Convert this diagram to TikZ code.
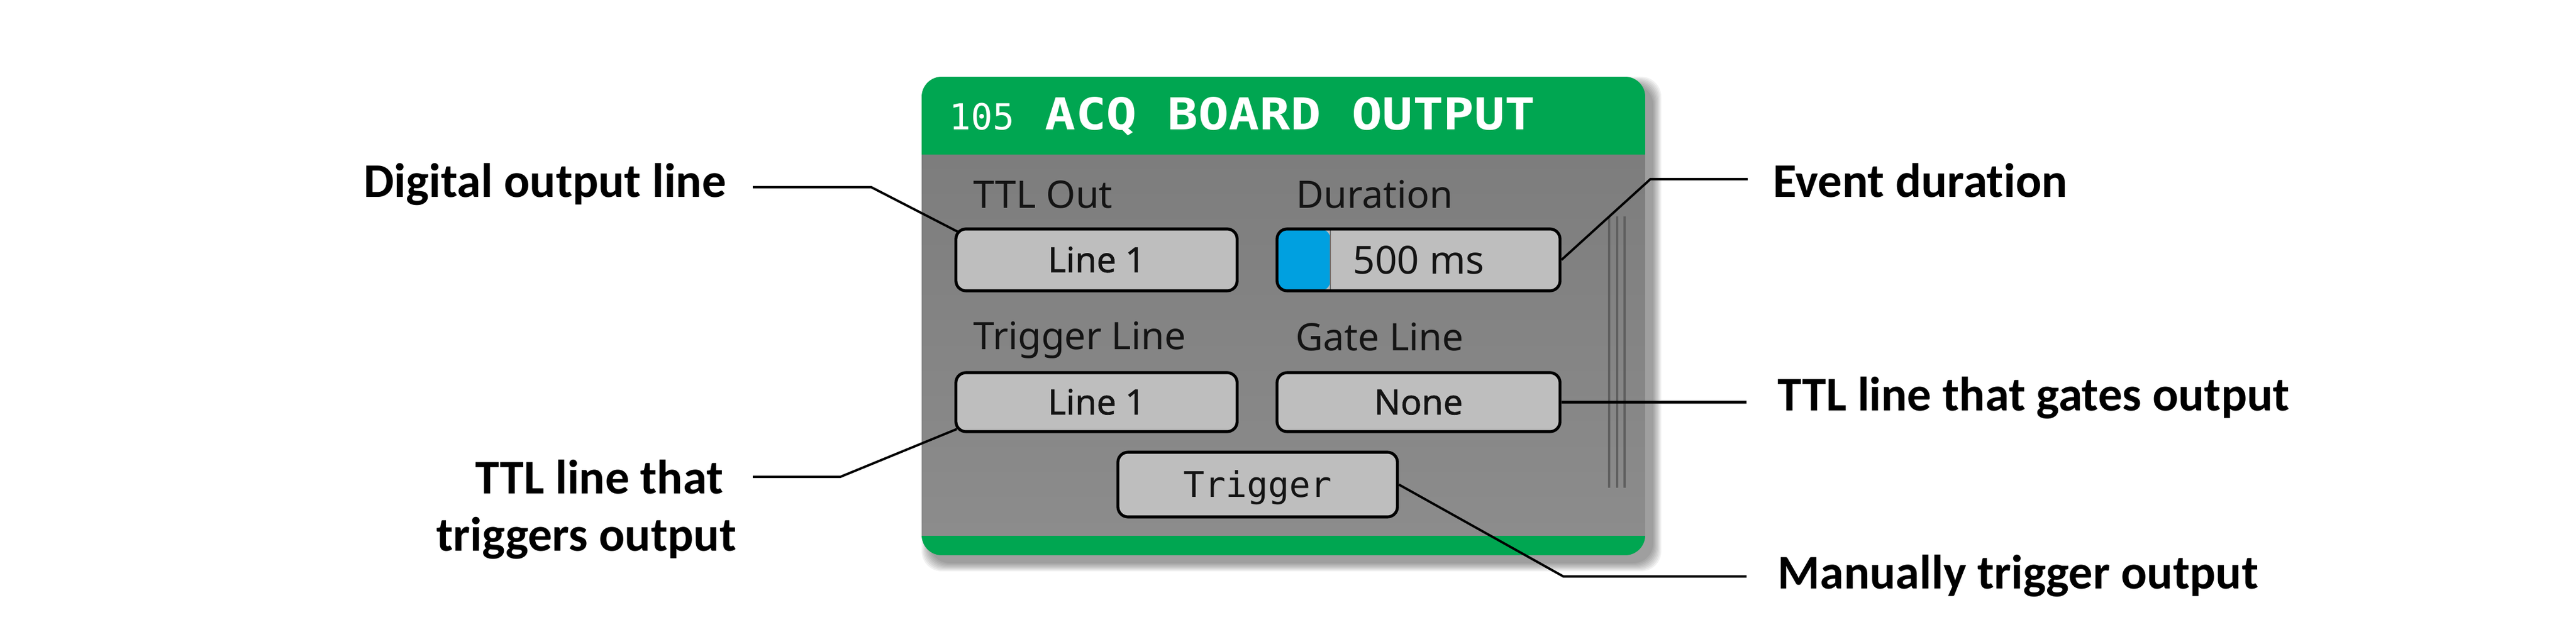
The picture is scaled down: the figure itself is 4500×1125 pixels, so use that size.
\documentclass[tikz,border=0pt]{standalone}
\usepackage{fontspec}
\usepackage{graphicx}
\usetikzlibrary{calc}
\newfontfamily\callfont{Carlito}[Ligatures=NoCommon]
\newfontfamily\uifont{Noto Sans}
\newfontfamily\uimed{Noto Sans}[FakeBold=1]
\newfontfamily\codefont{DejaVu Sans Mono}
\definecolor{hdrgreen}{RGB}{0,166,81}
\definecolor{bodytop}{RGB}{125,125,125}
\definecolor{bodybot}{RGB}{140,140,140}
\definecolor{btngray}{RGB}{190,190,190}
\definecolor{durblue}{RGB}{0,160,224}
\definecolor{sepgray}{RGB}{110,110,110}
\definecolor{scrollgray}{RGB}{95,95,95}
\definecolor{uitext}{RGB}{20,20,20}
\begin{document}
\begin{tikzpicture}[x=0.01cm,y=-0.01cm,
  btn/.style={draw=black, line width=1.45pt, fill=btngray, rounded corners=5pt, inner sep=0pt, text=uitext},
  callout/.style={font=\callfont\bfseries\fontsize{24}{28}\selectfont, inner sep=0pt, text=black},
  uilabel/.style={font=\uifont\fontsize{18.8}{22}\selectfont, inner sep=0pt, text=uitext},
  conn/.style={draw=black, line width=1.15pt},
  scrl/.style={draw=scrollgray, line width=1.1pt}]
\useasboundingbox (0,0) rectangle (4500,1125);
\fill[white] (0,0) rectangle (4500,1125);

% shadow
\foreach \i in {0,2,...,14} {
  \fill[black, opacity=0.055, rounded corners=10pt] (1624-\i,148-\i) rectangle (2888+\i,984+\i);
}
% panel
\begin{scope}
  \clip[rounded corners=10pt] (1610,134) rectangle (2874,970);
  \fill[hdrgreen] (1610,134) rectangle (2874,970);
  \shade[top color=bodytop, bottom color=bodybot] (1610,271) rectangle (2874,935);
\end{scope}

% title
\node[anchor=base west, inner sep=0pt, text=white, font=\codefont\fontsize{17.8}{20}\selectfont] (num) at (1658,227) {105};
\node[anchor=base west, inner sep=0pt, text=white, font=\codefont\bfseries\fontsize{21.8}{24}\selectfont] (ttl) at (1825,227) {\scalebox{1.16}[1]{ACQ BOARD OUTPUT}};

% scroll lines
\draw[scrl] (2811,378) -- (2811,852);
\draw[scrl] (2825,378) -- (2825,852);
\draw[scrl] (2838,378) -- (2838,852);

% labels
\node[uilabel, anchor=base west] (lttl) at (1700,364) {TTL Out};
\node[uilabel, anchor=base west] (ldur) at (2264,364) {Duration};
\node[uilabel, anchor=base west] (ltrl) at (1700,611) {Trigger Line};
\node[uilabel, anchor=base west] (lgate) at (2263,613) {Gate Line};

% buttons
\node[btn, minimum width=4.91cm, minimum height=1.08cm, font=\uimed\fontsize{17.3}{20}\selectfont, text height=12.3pt, text depth=0pt] (b1) at (1915.5,454) {Line 1};
\node[btn, minimum width=4.94cm, minimum height=1.08cm, font=\uifont\fontsize{19.2}{22}\selectfont, text height=13.7pt, text depth=0pt,
  path picture={
    \fill[durblue] (path picture bounding box.north west) rectangle ($(path picture bounding box.south west)+(93,0)$);
    \draw[sepgray, line width=0.6pt] ($(path picture bounding box.north west)+(93,0)$) -- ($(path picture bounding box.south west)+(93,0)$);
  }] (b2) at (2478,454) {500 ms};
\node[btn, minimum width=4.91cm, minimum height=1.03cm, font=\uimed\fontsize{17.3}{20}\selectfont, text height=12.3pt, text depth=0pt] (b3) at (1915.5,702.5) {Line 1};
\node[btn, minimum width=4.94cm, minimum height=1.03cm, font=\uimed\fontsize{17.3}{20}\selectfont, text height=12.3pt, text depth=0pt] (b4) at (2478,702.5) {None};
\node[btn, minimum width=4.88cm, minimum height=1.13cm, font=\codefont\fontsize{17.5}{20}\selectfont, text height=12.7pt, text depth=0pt] (b5) at (2197,846.5) {Trigger};

% callout texts
\node[callout, anchor=base east] (cdig) at (1269,345) {Digital output line};
\node[callout, anchor=base west] (cdur) at (3097,345) {Event duration};
\node[callout, anchor=base west] (cgate) at (3105,718) {TTL line that gates output};
\node[callout, anchor=base west] (cman) at (3105,1028) {Manually trigger output};
\node[callout, anchor=base east] (ctrig1) at (1264,862) {TTL line that};
\node[callout, anchor=base east] (ctrig2) at (1287,962) {triggers output};

% connector points
\coordinate (e1) at (1315,327);
\coordinate (k1) at (1522,327);
\coordinate (k2) at (2883,313);
\coordinate (e2) at (3053,313);
\coordinate (e3) at (3051,702.5);
\coordinate (k4) at (2731,1007);
\coordinate (e4) at (3051,1007);
\coordinate (k5) at (1468,833);
\coordinate (e5) at (1315,833);

% connectors
\draw[conn] (e1) -- (k1) -- ($(b1.north west)+(5,7)$);
\draw[conn] (b2.east) -- (k2) -- (e2);
\draw[conn] (b4.east) -- (e3);
\draw[conn] (b5.east) -- (k4) -- (e4);
\draw[conn] ($(b3.south west)+(4,-7)$) -- (k5) -- (e5);
\end{tikzpicture}
\end{document}
